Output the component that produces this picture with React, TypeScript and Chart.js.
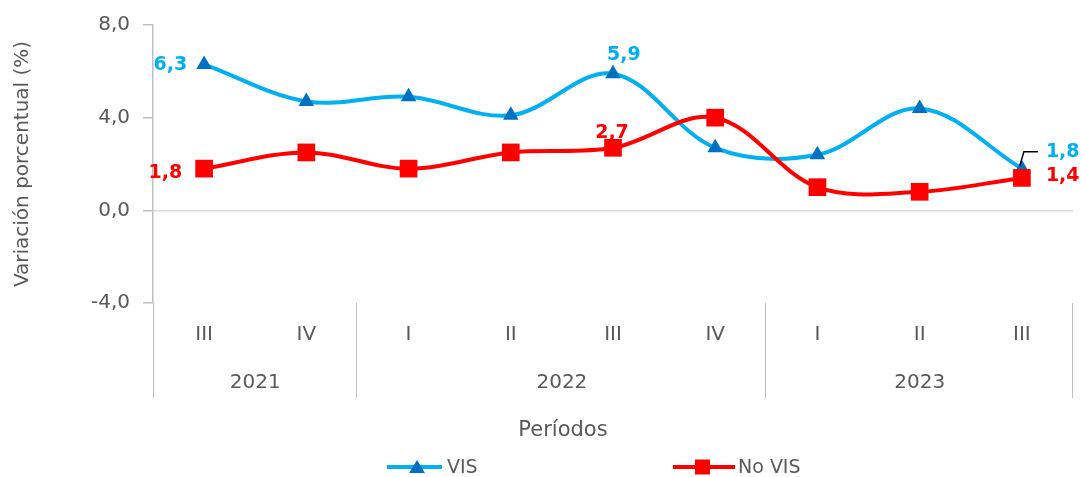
import React, { useEffect, useRef } from "react";
import { Chart, registerables } from "chart.js";

Chart.register(...registerables);

const QUARTERS = ["III", "IV", "I", "II", "III", "IV", "I", "II", "III"];
const QUARTER_YEARS = ["2021", "2021", "2022", "2022", "2022", "2022", "2023", "2023", "2023"];
const VIS = [6.3, 4.7, 4.9, 4.1, 5.9, 2.7, 2.4, 4.4, 1.8];
const NO_VIS = [1.8, 2.5, 1.8, 2.5, 2.7, 4.0, 1.0, 0.8, 1.4];
const Y_MIN = -4;
const Y_MAX = 8;
const Y_STEP = 4;
const Y_TITLE = "Variación porcentual (%)";
const X_TITLE = "Períodos";
const SERIES_NAMES = ["VIS", "No VIS"];
// indices with a data label
const VIS_LABELED = [0, 4, 8];
const NO_VIS_LABELED = [0, 4, 8];

const FONT = '"DejaVu Sans", sans-serif';
const GRAY = "#595959";
const AXIS_GRAY = "#BFBFBF";
const VIS_LINE = "#00B0F0";
const VIS_MARK = "#0070C0";
const RED = "#FF0000";

const fmt = (v: number) => v.toFixed(1).replace(".", ",");

// label placement (dx, dy relative to point, align)
const VIS_LABEL_POS: Record<number, [number, number, CanvasTextAlign]> = {
  0: [-17, 1, "right"],
  4: [-6, -19, "left"],
  8: [24, -17, "left"],
};
const NO_VIS_LABEL_POS: Record<number, [number, number, CanvasTextAlign]> = {
  0: [-22, 4, "right"],
  4: [-1, -15, "center"],
  8: [24, -2, "left"],
};

const overlay = {
  id: "overlay",
  afterDatasetsDraw(chart: any) {
    const ctx: CanvasRenderingContext2D = chart.ctx;
    const xs = chart.scales.x;
    const area = chart.chartArea;
    const half = (xs.getPixelForValue(1) - xs.getPixelForValue(0)) / 2;

    // data labels
    const drawLabels = (dsIndex: number, vals: number[], idxs: number[], pos: any, color: string) => {
      const meta = chart.getDatasetMeta(dsIndex);
      ctx.save();
      ctx.font = `bold 19px ${FONT}`;
      ctx.fillStyle = color;
      ctx.textBaseline = "middle";
      idxs.forEach((i) => {
        const p = meta.data[i];
        const [dx, dy, al] = pos[i];
        ctx.textAlign = al;
        ctx.fillText(fmt(vals[i]), p.x + dx, p.y + dy);
      });
      ctx.restore();
    };
    drawLabels(1, VIS, VIS_LABELED, VIS_LABEL_POS, VIS_LINE);
    drawLabels(0, NO_VIS, NO_VIS_LABELED, NO_VIS_LABEL_POS, RED);

    // leader line for last VIS label
    const lp = chart.getDatasetMeta(1).data[VIS.length - 1];
    ctx.save();
    ctx.strokeStyle = "#000";
    ctx.lineWidth = 1.5;
    ctx.beginPath();
    ctx.moveTo(lp.x - 2, lp.y - 3);
    ctx.lineTo(lp.x + 2, lp.y - 17);
    ctx.lineTo(lp.x + 16, lp.y - 17);
    ctx.stroke();
    ctx.restore();

    // group separators and year labels
    const groups: { year: string; start: number; end: number }[] = [];
    QUARTER_YEARS.forEach((y, i) => {
      const g = groups[groups.length - 1];
      if (g && g.year === y) g.end = i;
      else groups.push({ year: y, start: i, end: i });
    });
    const sepTop = area.bottom;
    const sepBottom = area.bottom + 95;
    ctx.save();
    ctx.strokeStyle = AXIS_GRAY;
    ctx.lineWidth = 1;
    const drawSep = (x: number) => {
      ctx.beginPath();
      ctx.moveTo(Math.round(x) + 0.5, sepTop);
      ctx.lineTo(Math.round(x) + 0.5, sepBottom);
      ctx.stroke();
    };
    drawSep(area.left - 0.5);
    groups.forEach((g) => drawSep(xs.getPixelForValue(g.end) + half - 1));
    ctx.font = `20px ${FONT}`;
    ctx.fillStyle = GRAY;
    ctx.textAlign = "center";
    ctx.textBaseline = "middle";
    groups.forEach((g) => {
      const x0 = xs.getPixelForValue(g.start) - half;
      const x1 = xs.getPixelForValue(g.end) + half;
      ctx.fillText(g.year, (x0 + x1) / 2, area.bottom + 80);
    });
    // axis title
    ctx.font = `21px ${FONT}`;
    ctx.fillText(X_TITLE, 563, area.bottom + 128);
    ctx.restore();

    // legend
    ctx.save();
    const ly = 467;
    ctx.lineWidth = 4;
    ctx.strokeStyle = VIS_LINE;
    ctx.beginPath();
    ctx.moveTo(387, ly);
    ctx.lineTo(442, ly);
    ctx.stroke();
    ctx.fillStyle = VIS_MARK;
    ctx.beginPath();
    ctx.moveTo(417, ly - 7);
    ctx.lineTo(425, ly + 6);
    ctx.lineTo(409, ly + 6);
    ctx.closePath();
    ctx.fill();
    ctx.strokeStyle = RED;
    ctx.beginPath();
    ctx.moveTo(673, ly);
    ctx.lineTo(735, ly);
    ctx.stroke();
    ctx.fillStyle = RED;
    ctx.fillRect(695, ly - 7.5, 15, 15);
    ctx.font = `19px ${FONT}`;
    ctx.fillStyle = GRAY;
    ctx.textAlign = "left";
    ctx.textBaseline = "middle";
    ctx.fillText(SERIES_NAMES[0], 447, ly + 1);
    ctx.fillText(SERIES_NAMES[1], 738, ly + 1);
    ctx.restore();
  },
};

export default function App() {
  const ref = useRef<HTMLCanvasElement | null>(null);
  useEffect(() => {
    if (!ref.current) return;
    Chart.defaults.font.family = FONT;
    const chart = new Chart(ref.current, {
      type: "line",
      data: {
        labels: QUARTERS,
        datasets: [
          {
            label: SERIES_NAMES[1],
            data: NO_VIS,
            borderColor: RED,
            backgroundColor: RED,
            borderWidth: 4,
            pointStyle: "rect",
            pointRadius: 12.5,
            pointBorderWidth: 0,
            pointBackgroundColor: RED,
            tension: 0.35,
            clip: false,
            order: 0,
          },
          {
            label: SERIES_NAMES[0],
            data: VIS,
            borderColor: VIS_LINE,
            backgroundColor: VIS_MARK,
            borderWidth: 4,
            pointStyle: "triangle",
            pointRadius: 9,
            pointBorderWidth: 0,
            pointBackgroundColor: VIS_MARK,
            tension: 0.35,
            clip: false,
            order: 1,
          },
        ],
      },
      options: {
        animation: false,
        responsive: true,
        maintainAspectRatio: false,
        layout: { autoPadding: false, padding: { left: 0, right: 8, top: 25, bottom: 0 } },
        plugins: { legend: { display: false }, tooltip: { enabled: false } },
        scales: {
          x: {
            offset: true,
            grid: { display: false, drawTicks: false },
            border: { display: false },
            ticks: { color: GRAY, font: { size: 20, family: FONT }, padding: 20, maxRotation: 0, autoSkip: false },
            afterFit: (s: any) => {
              s.height = 174;
              s.paddingLeft = 0;
              s.paddingRight = 0;
            },
          },
          y: {
            min: Y_MIN,
            max: Y_MAX,
            ticks: {
              stepSize: Y_STEP,
              color: GRAY,
              font: { size: 20, family: FONT },
              padding: 13,
              callback: (v: any) => fmt(Number(v)),
            },
            grid: {
              color: (c: any) => (c.tick && c.tick.value === 0 ? "#D9D9D9" : "rgba(0,0,0,0)"),
              tickColor: AXIS_GRAY,
              tickLength: 10,
              lineWidth: 1.5,
            },
            border: { display: true, color: AXIS_GRAY, width: 1.5 },
            title: {
              display: true,
              text: Y_TITLE,
              color: GRAY,
              font: { size: 20, family: FONT },
              padding: { top: 11, bottom: 0 },
            },
            afterFit: (s: any) => {
              s.width = 153;
            },
          },
        },
      },
      plugins: [overlay],
    });
    return () => chart.destroy();
  }, []);
  return (
    <div style={{ position: "fixed", left: 0, top: 0, width: 1081, height: 477, background: "#fff" }}>
      <canvas ref={ref} />
    </div>
  );
}
